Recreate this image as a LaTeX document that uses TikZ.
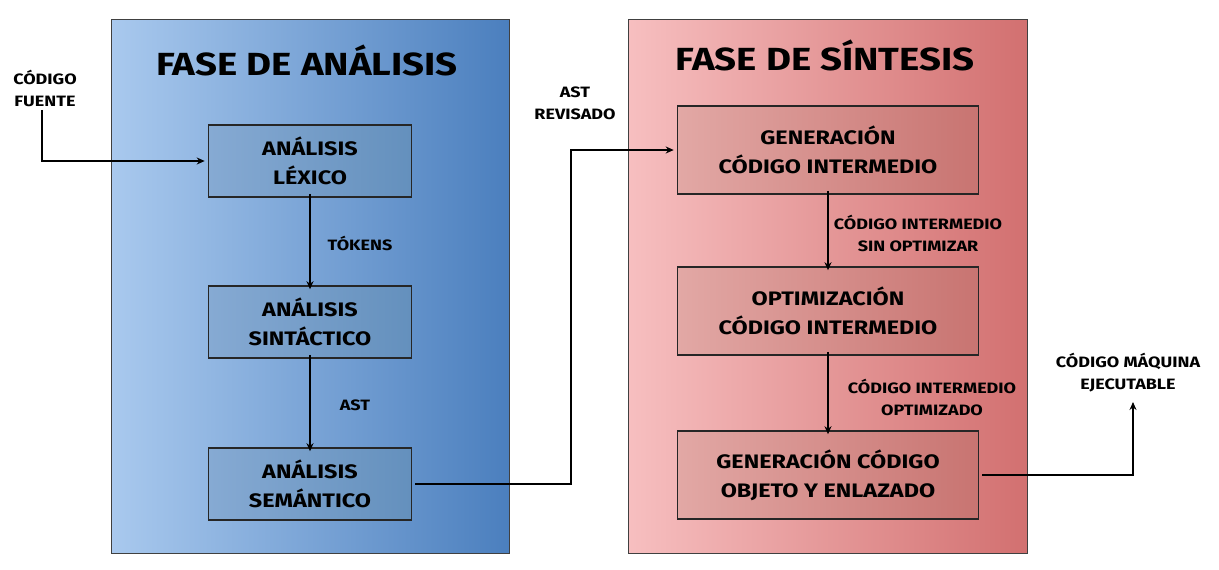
\documentclass[tikz,border=0pt]{standalone}
\usepackage{fontspec}
\setmainfont{Fira Sans}[FakeStretch=1.2]
\usetikzlibrary{arrows.meta}

\definecolor{azulA}{HTML}{A9C9EE}
\definecolor{azulB}{HTML}{4B7FBE}
\definecolor{azulC}{HTML}{86AAD3}
\definecolor{azulD}{HTML}{6490BD}
\definecolor{rojoA}{HTML}{F7BFC0}
\definecolor{rojoB}{HTML}{D27070}
\definecolor{rojoC}{HTML}{E2A8A5}
\definecolor{rojoD}{HTML}{C87471}

\tikzset{
  fase/.style={draw=black!75, line width=0.9pt},
  titulo/.style={font=\bfseries\fontsize{32}{34}\selectfont},
  etapa/.style={draw=black!85, line width=1.6pt, align=center, inner sep=0pt,
    font=\bfseries\fontsize{19.5}{29}\selectfont},
  etapaL/.style={etapa, left color=azulC, right color=azulD,
    minimum width=203pt, minimum height=72pt},
  etapaR/.style={etapa, left color=rojoC, right color=rojoD,
    minimum width=301pt, minimum height=88pt},
  rotulo/.style={align=center, font=\bfseries\fontsize{15}{22}\selectfont},
  flecha/.style={line width=1.1pt, -{Stealth[length=8pt, width=7pt]}}
}

\begin{document}
\begin{tikzpicture}[x=1pt,y=-1pt]
\useasboundingbox (0,0) rectangle (1219,570);
\shade[fase, left color=azulA, right color=azulB] (111,19) rectangle (509,553);
\shade[fase, left color=rojoA, right color=rojoB] (628,19) rectangle (1027,553);
\node[titulo] (tA) at (307,60) {FASE DE ANÁLISIS};
\node[titulo] (tS) at (825,55) {FASE DE SÍNTESIS};

\node[etapaL] (lex) at (310,161) {ANÁLISIS\\LÉXICO};
\node[etapaL] (sin) at (310,322) {ANÁLISIS\\SINTÁCTICO};
\node[etapaL] (sem) at (310,484) {ANÁLISIS\\SEMÁNTICO};

\node[etapaR] (gen) at (828,150) {GENERACIÓN\\CÓDIGO INTERMEDIO};
\node[etapaR] (opt) at (828,311) {OPTIMIZACIÓN\\CÓDIGO INTERMEDIO};
\node[etapaR] (obj) at (828,475) {GENERACIÓN CÓDIGO\\OBJETO Y ENLAZADO};

\node[rotulo] (fuente) at (45,88) {CÓDIGO\\FUENTE};
\node[rotulo] (tok) at (360,243) {TÓKENS};
\node[rotulo] (ast) at (355,405) {AST};
\node[rotulo] (rev) at (575,103) {AST\\REVISADO};
\node[rotulo] (sinopt) at (918,233) {CÓDIGO INTERMEDIO\\SIN OPTIMIZAR};
\node[rotulo] (optim) at (932,397) {CÓDIGO INTERMEDIO\\OPTIMIZADO};
\node[rotulo] (maq) at (1128,373) {CÓDIGO MÁQUINA\\EJECUTABLE};

\coordinate (salida) at (1133,402);

\draw[flecha] ([xshift=-3pt]fuente.south) |- ([xshift=-3pt]lex.west);
\draw[flecha] ([yshift=4pt]lex.south) -- ([yshift=-4pt]sin.north);
\draw[flecha] ([yshift=4pt]sin.south) -- ([yshift=-4pt]sem.north);
\draw[flecha] ([xshift=3pt]sem.east) -| (571,150) -- ([xshift=-3pt]gen.west);
\draw[flecha] ([yshift=4pt]gen.south) -- ([yshift=-4pt]opt.north);
\draw[flecha] ([yshift=4pt]opt.south) -- ([yshift=-4pt]obj.north);
\draw[flecha] ([xshift=3pt]obj.east) -| (salida);
\end{tikzpicture}
\end{document}
